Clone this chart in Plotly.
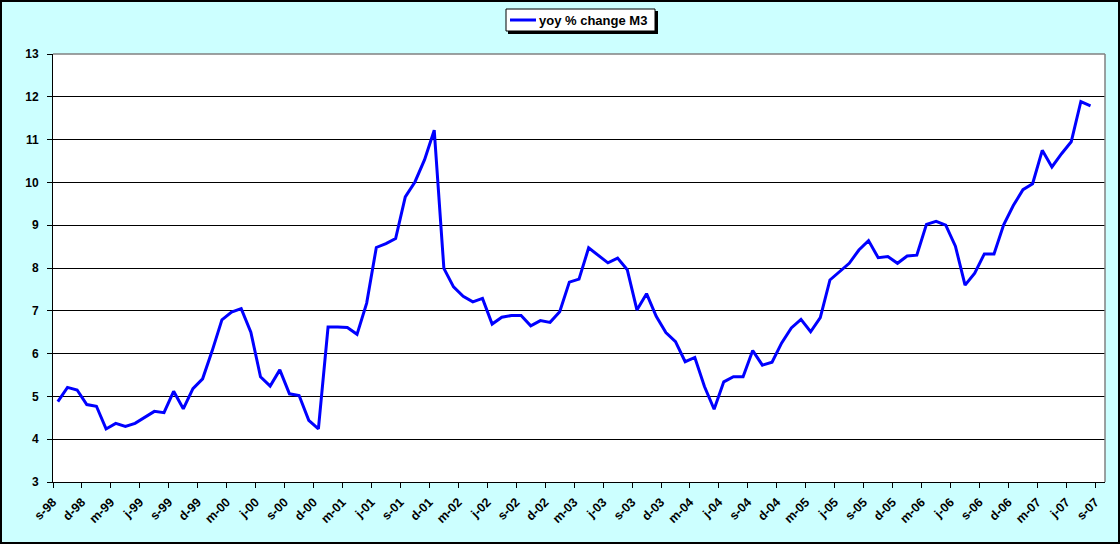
import plotly.graph_objects as go

# monthly yoy % change of M3, sep-98 .. sep-07 (last month not yet published)
months = ['s-98', 'o-98', 'n-98', 'd-98',
          'j-99', 'f-99', 'm-99', 'a-99', 'm-99', 'j-99', 'j-99', 'a-99', 's-99', 'o-99', 'n-99', 'd-99',
          'j-00', 'f-00', 'm-00', 'a-00', 'm-00', 'j-00', 'j-00', 'a-00', 's-00', 'o-00', 'n-00', 'd-00',
          'j-01', 'f-01', 'm-01', 'a-01', 'm-01', 'j-01', 'j-01', 'a-01', 's-01', 'o-01', 'n-01', 'd-01',
          'j-02', 'f-02', 'm-02', 'a-02', 'm-02', 'j-02', 'j-02', 'a-02', 's-02', 'o-02', 'n-02', 'd-02',
          'j-03', 'f-03', 'm-03', 'a-03', 'm-03', 'j-03', 'j-03', 'a-03', 's-03', 'o-03', 'n-03', 'd-03',
          'j-04', 'f-04', 'm-04', 'a-04', 'm-04', 'j-04', 'j-04', 'a-04', 's-04', 'o-04', 'n-04', 'd-04',
          'j-05', 'f-05', 'm-05', 'a-05', 'm-05', 'j-05', 'j-05', 'a-05', 's-05', 'o-05', 'n-05', 'd-05',
          'j-06', 'f-06', 'm-06', 'a-06', 'm-06', 'j-06', 'j-06', 'a-06', 's-06', 'o-06', 'n-06', 'd-06',
          'j-07', 'f-07', 'm-07', 'a-07', 'm-07', 'j-07', 'j-07', 'a-07', 's-07']
m3 = [4.88, 5.21, 5.15, 4.81, 4.77, 4.24, 4.37, 4.30, 4.37, 4.51, 4.65, 4.62,
      5.12, 4.71, 5.18, 5.41, 6.07, 6.79, 6.97, 7.05, 6.50, 5.46, 5.24, 5.62,
      5.06, 5.02, 4.44, 4.24, 6.62, 6.62, 6.61, 6.45, 7.18, 8.48, 8.57, 8.69,
      9.66, 10.01, 10.53, 11.22, 7.99, 7.56, 7.34, 7.21, 7.29, 6.69, 6.85, 6.89,
      6.89, 6.65, 6.77, 6.73, 6.98, 7.67, 7.74, 8.47, 8.29, 8.12, 8.23, 7.96,
      7.02, 7.40, 6.87, 6.49, 6.28, 5.81, 5.91, 5.23, 4.70, 5.34, 5.46, 5.46,
      6.07, 5.73, 5.80, 6.25, 6.60, 6.80, 6.51, 6.84, 7.72, 7.91, 8.11, 8.42,
      8.64, 8.24, 8.27, 8.11, 8.28, 8.30, 9.02, 9.09, 9.00, 8.51, 7.60, 7.88,
      8.33, 8.33, 9.01, 9.46, 9.83, 9.97, 10.75, 10.36, 10.67, 10.95, 11.89, 11.79,
      None]
series_name = 'yoy % change M3'

W, H = 1120, 544
ml, mr, mt, mb = 53, 15, 54, 62
pw, ph = W - ml - mr, H - mt - mb

def px_x(p):  # pixel -> paper
    return (p - ml) / pw

def px_y(p):
    return (H - mb - p) / ph

idx = list(range(len(months)))
lab_pos = idx[::3]
lab_txt = months[::3]
bounds = [i - 0.5 for i in lab_pos]

font = 'Liberation Sans, Arial, sans-serif'
blue = '#0000FF'

fig = go.Figure()
fig.add_trace(go.Scatter(x=idx, y=m3, mode='lines', name=series_name,
                         line=dict(color=blue, width=3), connectgaps=False,
                         showlegend=False))

fig.update_layout(width=W, height=H, autosize=False,
                  margin=dict(l=ml, r=mr, t=mt, b=mb, pad=0),
                  paper_bgcolor='#CCFFFF', plot_bgcolor='white',
                  font=dict(family=font, size=12, color='black'),
                  showlegend=False)

fig.update_xaxes(range=[-0.5, len(months) - 0.5], showgrid=False, zeroline=False,
                 automargin=False,
                 tickmode='array', tickvals=lab_pos,
                 ticktext=['<b>%s</b>' % t for t in lab_txt],
                 tickangle=-45, ticks='', tickfont=dict(size=12.5),
                 ticklabelshift=-5, ticklabelstandoff=7,
                 showline=True, linecolor='black', linewidth=1,
                 minor=dict(tickmode='array', tickvals=bounds, ticks='outside',
                            ticklen=5, tickcolor='black', showgrid=False))
fig.update_yaxes(range=[3, 13], automargin=False,
                 tickmode='array', tickvals=list(range(3, 14)),
                 ticktext=['<b>%d</b>' % v for v in range(3, 14)],
                 showgrid=True, gridcolor='black', gridwidth=1, zeroline=False,
                 ticks='outside', ticklen=5, tickcolor='black',
                 ticklabelstandoff=6,
                 showline=True, linecolor='black', linewidth=1,
                 tickfont=dict(size=12))

# grey plot-area border on top and right, black frame round the whole chart
fig.add_shape(type='line', xref='paper', yref='paper', x0=0, x1=1, y0=1, y1=1,
              line=dict(color='grey', width=1.5), layer='above')
fig.add_shape(type='line', xref='paper', yref='paper', x0=1, x1=1, y0=0, y1=1,
              line=dict(color='grey', width=1.5), layer='above')
fig.add_shape(type='rect', xref='paper', yref='paper',
              x0=px_x(1), x1=px_x(W - 1), y0=px_y(H - 1), y1=px_y(1),
              line=dict(color='black', width=2), layer='below')

# legend box (excel style with drop shadow)
fig.add_shape(type='rect', xref='paper', yref='paper',
              x0=px_x(508), x1=px_x(658), y0=px_y(34), y1=px_y(11),
              fillcolor='black', line=dict(width=0), layer='above')
fig.add_shape(type='rect', xref='paper', yref='paper',
              x0=px_x(506), x1=px_x(655), y0=px_y(31), y1=px_y(9),
              fillcolor='white', line=dict(color='black', width=1), layer='above')
fig.add_shape(type='line', xref='paper', yref='paper',
              x0=px_x(510), x1=px_x(536), y0=px_y(20), y1=px_y(20),
              line=dict(color=blue, width=3), layer='above')
fig.add_annotation(xref='paper', yref='paper', x=px_x(537), y=px_y(20.5),
                   xanchor='left', yanchor='middle', showarrow=False,
                   text='<b>%s</b>' % series_name, font=dict(size=13, family=font))

# the page is photographed from its top-left corner: drop the default body margin
fig.write_html('out.html', config={'displayModeBar': False},
               post_script="document.body.style.margin='0';")
